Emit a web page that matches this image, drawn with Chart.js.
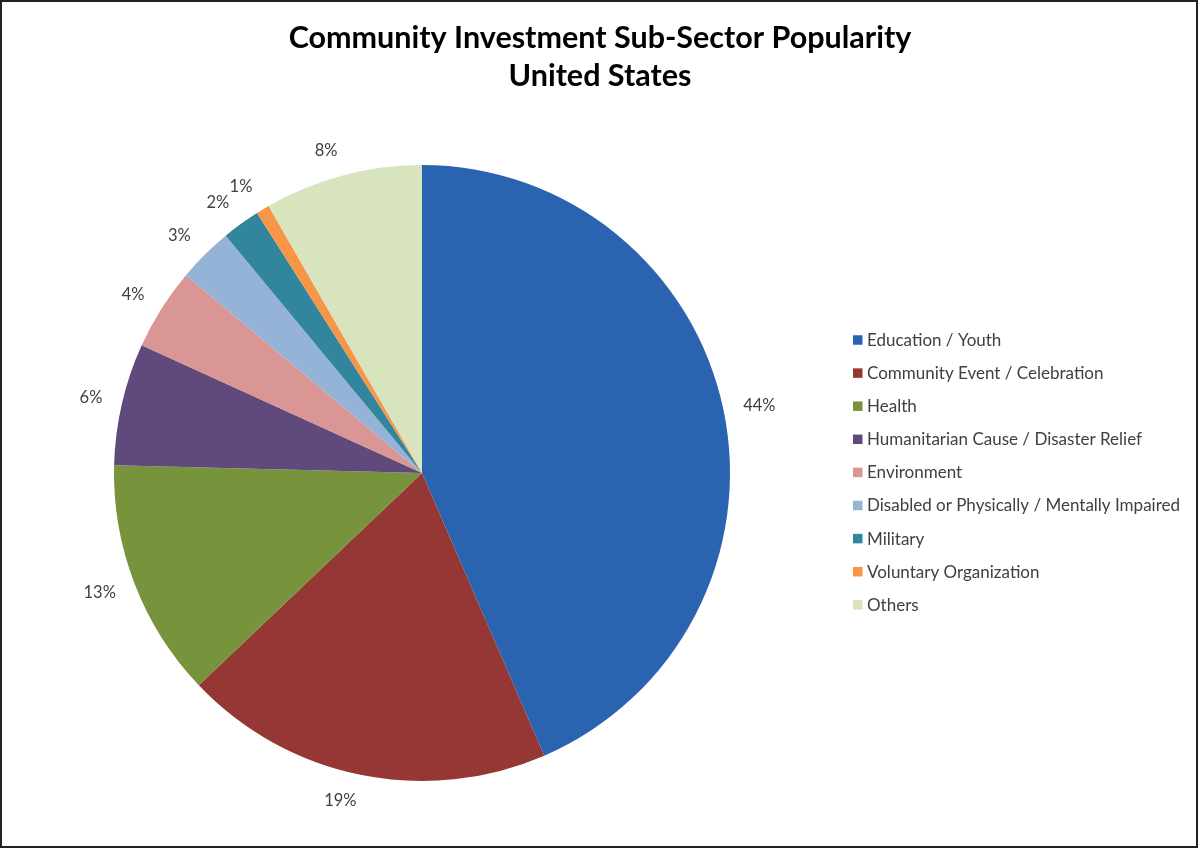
<!DOCTYPE html>
<html>
<head>
<meta charset="utf-8">
<script src="https://cdn.jsdelivr.net/npm/chart.js@4.4.0/dist/chart.umd.min.js"></script>
<style>
  html, body { margin: 0; padding: 0; background: #fff; }
  #wrap { position: relative; width: 1200px; height: 849px; }
</style>
</head>
<body>
<div id="wrap"><canvas id="c" width="1200" height="849"></canvas></div>
<script>
const categories = [
  "Education / Youth",
  "Community Event / Celebration",
  "Health",
  "Humanitarian Cause / Disaster Relief",
  "Environment",
  "Disabled or Physically / Mentally Impaired",
  "Military",
  "Voluntary Organization",
  "Others"
];
const shares = [43.5, 19.4, 12.5, 6.4, 4.3, 2.9, 2.0, 0.7, 8.3];
const percentLabels = ["44%", "19%", "13%", "6%", "4%", "3%", "2%", "1%", "8%"];
const colors = ["#2A64B0", "#953735", "#77933C", "#604A7B", "#D99694", "#95B3D7", "#31859C", "#F79646", "#D7E4BD"];
const titleLines = ["Community Investment Sub-Sector Popularity", "United States"];

const FONT = "Lato, 'Open Sans', 'DejaVu Sans', sans-serif";

const chartTitle = {
  id: 'chartTitle',
  afterDraw(chart) {
    const ctx = chart.ctx;
    ctx.save();
    ctx.font = "bold 30.5px " + FONT;
    ctx.fillStyle = "#000";
    ctx.textAlign = "center";
    ctx.textBaseline = "middle";
    titleLines.forEach((t, i) => ctx.fillText(t, chart.width / 2, 38 + i * 38));
    ctx.restore();
  }
};

const outsideLabels = {
  id: 'outsideLabels',
  afterDatasetsDraw(chart) {
    const ctx = chart.ctx;
    const meta = chart.getDatasetMeta(0);
    ctx.save();
    ctx.font = "16.5px " + FONT;
    ctx.fillStyle = "#404040";
    ctx.textAlign = "center";
    ctx.textBaseline = "middle";
    const h = 17, gap = 20;
    meta.data.forEach((arc, i) => {
      const p = arc.getProps(['x', 'y', 'startAngle', 'endAngle', 'outerRadius'], true);
      const mid = (p.startAngle + p.endAngle) / 2;
      const dx = Math.cos(mid), dy = Math.sin(mid);
      const w = ctx.measureText(percentLabels[i]).width;
      const x = p.x + dx * (p.outerRadius + gap) + Math.sign(dx) * w / 2;
      const y = p.y + dy * (p.outerRadius + gap) + 0.7 * dy * h / 2;
      ctx.fillText(percentLabels[i], x, y);
    });
    ctx.restore();
  }
};

const sideLegend = {
  id: 'sideLegend',
  afterDraw(chart) {
    const ctx = chart.ctx;
    const labels = chart.data.labels;
    const bg = chart.data.datasets[0].backgroundColor;
    const x0 = 853, y0 = 340, step = 33.1, box = 9.5;
    ctx.save();
    ctx.font = "17px " + FONT;
    ctx.textAlign = "left";
    ctx.textBaseline = "middle";
    labels.forEach((lab, i) => {
      const y = y0 + i * step;
      ctx.fillStyle = bg[i];
      ctx.fillRect(x0, y - box / 2, box, box);
      ctx.fillStyle = "#404040";
      ctx.fillText(lab, x0 + 14, y + 0.5);
    });
    ctx.restore();
  }
};

const frame = {
  id: 'frame',
  afterDraw(chart) {
    const ctx = chart.ctx;
    ctx.save();
    ctx.strokeStyle = "#222";
    ctx.lineWidth = 2;
    ctx.strokeRect(1, 1, 1196, 846);
    ctx.restore();
  }
};

new Chart(document.getElementById('c'), {
  type: 'pie',
  data: {
    labels: categories,
    datasets: [{
      data: shares,
      backgroundColor: colors,
      borderWidth: 0
    }]
  },
  plugins: [chartTitle, outsideLabels, sideLegend, frame],
  options: {
    responsive: false,
    animation: false,
    devicePixelRatio: 1,
    layout: { padding: { left: 0, right: 356, top: 165, bottom: 68 } },
    plugins: {
      tooltip: { enabled: false },
      legend: { display: false },
      title: { display: false }
    }
  }
});
</script>
</body>
</html>
